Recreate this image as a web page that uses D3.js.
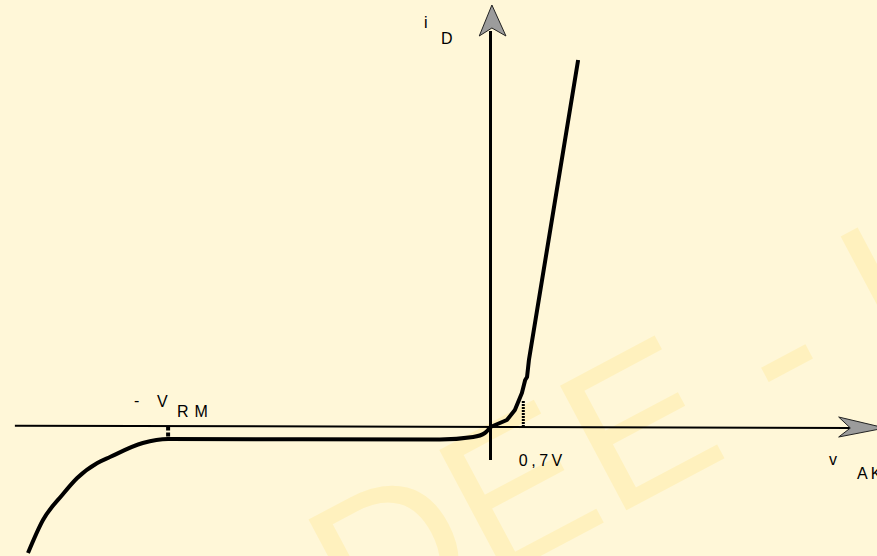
<!DOCTYPE html>
<html><head><meta charset="utf-8">
<script src="https://cdn.jsdelivr.net/npm/d3@7"></script>
<style>
html,body{margin:0;padding:0;background:#FFF7D8;}
svg{display:block;}
text{font-family:"Liberation Sans",Arial,sans-serif;}
</style>
</head><body>
<svg id="chart" width="877" height="556"></svg>
<script>
// ---- data (voltage in V, current in arbitrary units) ----
const reverseV = [-9.87, -9.55, -9.14, -8.82, -8.39, -8.12, -7.42, -6.88, -1.08, -0.37, -0.12, 0];
const reverseI = [-12.6, -9.3, -6.8, -5.1, -3.6, -3.0, -1.6, -1.2, -1.25, -1.0, -0.6, 0];
const forwardV = [0, 0.35, 0.52, 0.67, 0.74, 0.78, 0.82, 1.87];
const forwardI = [0, 0.7, 1.7, 3.4, 4.7, 5.0, 6.7, 36.7];
const tickValues = [0.7, -6.88];
const tickLabels = ["0,7V", "V"];
const watermarkText = "DEE - U";

const svg = d3.select("#chart");
const W = 877, H = 556;

const x = d3.scaleLinear().domain([-10, 0]).range([21.9, 490.5]);
const y = d3.scaleLinear().domain([0, 40]).range([427, 27]);

// background
svg.append("rect").attr("width", W).attr("height", H).attr("fill", "#FFF7D8");

// watermark
svg.append("text")
  .attr("transform", "translate(360,652) rotate(-28)")
  .attr("font-size", 205)
  .attr("fill", "#FFF1BE")
  .attr("xml:space", "preserve")
  .style("white-space", "pre")
  .text(watermarkText);

// x axis
svg.append("line")
  .attr("x1", x(-10.15)).attr("y1", y(0.13))
  .attr("x2", x(7.67)).attr("y2", y(-0.1))
  .attr("stroke", "#000").attr("stroke-width", 2);
// y axis
svg.append("line")
  .attr("x1", x(0)).attr("y1", y(-3.3))
  .attr("x2", x(0)).attr("y2", y(39.6))
  .attr("stroke", "#000").attr("stroke-width", 3);

// arrowheads
const arrowY = [[0.03, 42.2], [-0.24, 39.1], [0.03, 39.9], [0.33, 39.1]];
svg.append("path")
  .attr("d", "M" + arrowY.map(p => [x(p[0]), y(p[1])].join(",")).join("L") + "Z")
  .attr("fill", "#9c9c9c").attr("stroke", "#222").attr("stroke-width", 1);
const arrowX = [[8.42, -0.1], [7.43, 1.0], [7.68, -0.1], [7.43, -1.0]];
svg.append("path")
  .attr("d", "M" + arrowX.map(p => [x(p[0]), y(p[1])].join(",")).join("L") + "Z")
  .attr("fill", "#9c9c9c").attr("stroke", "#222").attr("stroke-width", 1);

// characteristic curve
const line = d3.line().x(d => x(d[0])).y(d => y(d[1])).curve(d3.curveMonotoneX);
const rev = reverseV.map((v, i) => [v, reverseI[i]]);
svg.append("path").datum(rev).attr("d", line)
  .attr("fill", "none").attr("stroke", "#000").attr("stroke-width", 4)
  .attr("stroke-linejoin", "round").attr("stroke-linecap", "butt");
const fwd = forwardV.map((v, i) => [v, forwardI[i]]);
svg.append("path").datum(fwd).attr("d", d3.line().x(d => x(d[0])).y(d => y(d[1])).curve(d3.curveLinear))
  .attr("fill", "none").attr("stroke", "#000").attr("stroke-width", 4)
  .attr("stroke-linejoin", "round").attr("stroke-linecap", "butt");

// dotted ticks
svg.append("line")
  .attr("x1", x(tickValues[0])).attr("y1", y(0))
  .attr("x2", x(tickValues[0])).attr("y2", y(2.6))
  .attr("stroke", "#000").attr("stroke-width", 3).attr("stroke-dasharray", "2,1");
svg.append("line")
  .attr("x1", x(tickValues[1])).attr("y1", y(0.05))
  .attr("x2", x(tickValues[1])).attr("y2", y(-1.1))
  .attr("stroke", "#000").attr("stroke-width", 4).attr("stroke-dasharray", "4,2");

// labels
const fs = 16;
svg.append("text").attr("x", x(tickValues[0]) - 4.5).attr("y", 466)
  .attr("font-size", fs).attr("letter-spacing", 3.5).text(tickLabels[0]);
svg.append("text").attr("x", 134).attr("y", 406).attr("font-size", fs).text("-");
svg.append("text").attr("x", 157).attr("y", 407).attr("font-size", fs).text(tickLabels[1]);
svg.append("text").attr("x", 177).attr("y", 417).attr("font-size", fs).attr("letter-spacing", 6).text("RM");
svg.append("text").attr("x", 424).attr("y", 28).attr("font-size", fs).text("i");
svg.append("text").attr("x", 441).attr("y", 44).attr("font-size", fs).text("D");
svg.append("text").attr("x", 829).attr("y", 465).attr("font-size", fs).text("v");
svg.append("text").attr("x", 857).attr("y", 479).attr("font-size", fs).attr("letter-spacing", 3).text("AK");
</script>
</body></html>
